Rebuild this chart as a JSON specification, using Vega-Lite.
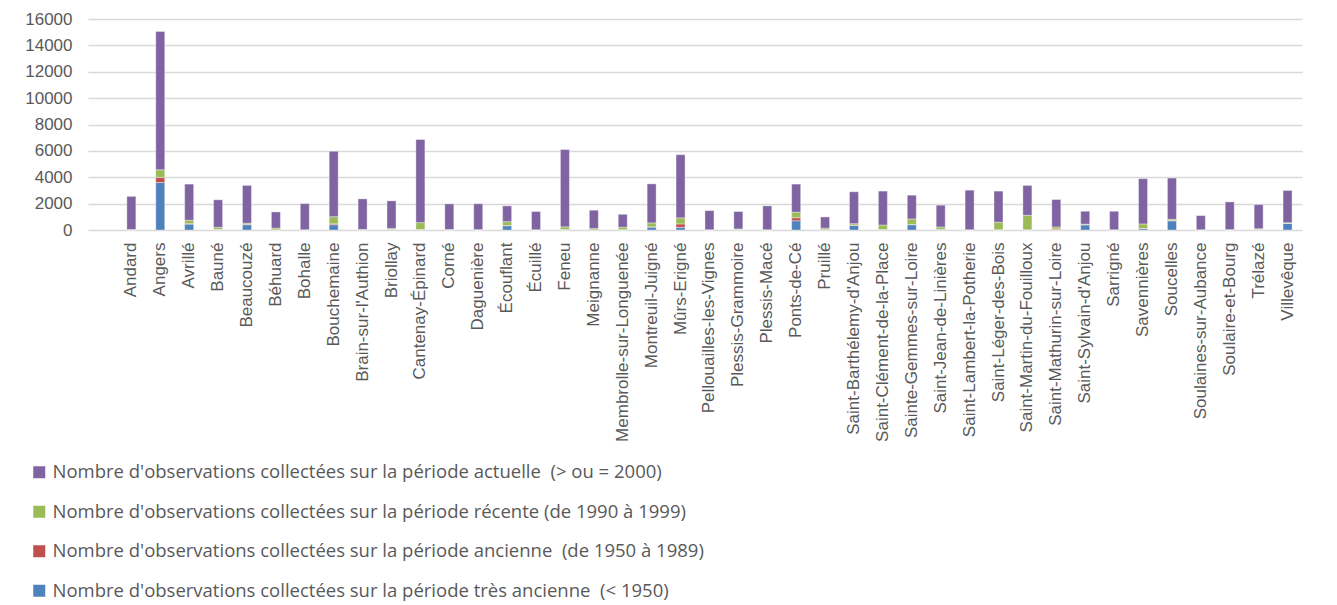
{
  "$schema": "https://vega.github.io/schema/vega-lite/v6.json",
  "width": 1214,
  "height": 211,
  "autosize": {"type": "none"},
  "padding": {"left": 88, "top": 19, "right": 35, "bottom": 375},
  "background": "#ffffff",
  "config": {
    "font": "Liberation Sans",
    "view": {"stroke": null},
    "axis": {"labelColor": "#595959", "labelFont": "Liberation Sans", "labelFontSize": 17, "ticks": false, "domain": false, "title": null, "labelLimit": 500},
    "legend": {"labelColor": "#595959", "labelFont": "Open Sans", "labelFontSize": 18.5}
  },
  "data": {
    "values": [
      {"commune": "Andard", "avant_1950": 10, "de_1950_a_1989": 0, "de_1990_a_1999": 30, "depuis_2000": 2510},
      {"commune": "Angers", "avant_1950": 3600, "de_1950_a_1989": 390, "de_1990_a_1999": 580, "depuis_2000": 10490},
      {"commune": "Avrillé", "avant_1950": 450, "de_1950_a_1989": 30, "de_1990_a_1999": 260, "depuis_2000": 2740},
      {"commune": "Bauné", "avant_1950": 40, "de_1950_a_1989": 10, "de_1990_a_1999": 150, "depuis_2000": 2090},
      {"commune": "Beaucouzé", "avant_1950": 400, "de_1950_a_1989": 40, "de_1990_a_1999": 80, "depuis_2000": 2860},
      {"commune": "Béhuard", "avant_1950": 10, "de_1950_a_1989": 10, "de_1990_a_1999": 130, "depuis_2000": 1220},
      {"commune": "Bohalle", "avant_1950": 0, "de_1950_a_1989": 0, "de_1990_a_1999": 20, "depuis_2000": 1980},
      {"commune": "Bouchemaine", "avant_1950": 400, "de_1950_a_1989": 70, "de_1990_a_1999": 540, "depuis_2000": 4960},
      {"commune": "Brain-sur-l'Authion", "avant_1950": 10, "de_1950_a_1989": 0, "de_1990_a_1999": 40, "depuis_2000": 2310},
      {"commune": "Briollay", "avant_1950": 50, "de_1950_a_1989": 0, "de_1990_a_1999": 70, "depuis_2000": 2090},
      {"commune": "Cantenay-Épinard", "avant_1950": 20, "de_1950_a_1989": 20, "de_1990_a_1999": 520, "depuis_2000": 6300},
      {"commune": "Corné", "avant_1950": 10, "de_1950_a_1989": 0, "de_1990_a_1999": 30, "depuis_2000": 1940},
      {"commune": "Daguenière", "avant_1950": 0, "de_1950_a_1989": 0, "de_1990_a_1999": 30, "depuis_2000": 1960},
      {"commune": "Écouflant", "avant_1950": 320, "de_1950_a_1989": 20, "de_1990_a_1999": 290, "depuis_2000": 1200},
      {"commune": "Écuillé", "avant_1950": 0, "de_1950_a_1989": 0, "de_1990_a_1999": 20, "depuis_2000": 1380},
      {"commune": "Feneu", "avant_1950": 10, "de_1950_a_1989": 30, "de_1990_a_1999": 200, "depuis_2000": 5860},
      {"commune": "Meignanne", "avant_1950": 10, "de_1950_a_1989": 0, "de_1990_a_1999": 110, "depuis_2000": 1380},
      {"commune": "Membrolle-sur-Longuenée", "avant_1950": 10, "de_1950_a_1989": 20, "de_1990_a_1999": 180, "depuis_2000": 980},
      {"commune": "Montreuil-Juigné", "avant_1950": 220, "de_1950_a_1989": 20, "de_1990_a_1999": 300, "depuis_2000": 2960},
      {"commune": "Mûrs-Erigné", "avant_1950": 200, "de_1950_a_1989": 260, "de_1990_a_1999": 460, "depuis_2000": 4790},
      {"commune": "Pellouailles-les-Vignes", "avant_1950": 0, "de_1950_a_1989": 0, "de_1990_a_1999": 20, "depuis_2000": 1450},
      {"commune": "Plessis-Grammoire", "avant_1950": 30, "de_1950_a_1989": 10, "de_1990_a_1999": 40, "depuis_2000": 1320},
      {"commune": "Plessis-Macé", "avant_1950": 0, "de_1950_a_1989": 0, "de_1990_a_1999": 20, "depuis_2000": 1810},
      {"commune": "Ponts-de-Cé", "avant_1950": 700, "de_1950_a_1989": 230, "de_1990_a_1999": 420, "depuis_2000": 2130},
      {"commune": "Pruillé", "avant_1950": 20, "de_1950_a_1989": 0, "de_1990_a_1999": 120, "depuis_2000": 850},
      {"commune": "Saint-Barthélemy-d'Anjou", "avant_1950": 350, "de_1950_a_1989": 20, "de_1990_a_1999": 110, "depuis_2000": 2420},
      {"commune": "Saint-Clément-de-la-Place", "avant_1950": 20, "de_1950_a_1989": 20, "de_1990_a_1999": 340, "depuis_2000": 2570},
      {"commune": "Sainte-Gemmes-sur-Loire", "avant_1950": 400, "de_1950_a_1989": 20, "de_1990_a_1999": 420, "depuis_2000": 1800},
      {"commune": "Saint-Jean-de-Linières", "avant_1950": 20, "de_1950_a_1989": 30, "de_1990_a_1999": 180, "depuis_2000": 1650},
      {"commune": "Saint-Lambert-la-Potherie", "avant_1950": 0, "de_1950_a_1989": 0, "de_1990_a_1999": 20, "depuis_2000": 3000},
      {"commune": "Saint-Léger-des-Bois", "avant_1950": 20, "de_1950_a_1989": 0, "de_1990_a_1999": 570, "depuis_2000": 2360},
      {"commune": "Saint-Martin-du-Fouilloux", "avant_1950": 10, "de_1950_a_1989": 10, "de_1990_a_1999": 1100, "depuis_2000": 2260},
      {"commune": "Saint-Mathurin-sur-Loire", "avant_1950": 20, "de_1950_a_1989": 60, "de_1990_a_1999": 150, "depuis_2000": 2080},
      {"commune": "Saint-Sylvain-d'Anjou", "avant_1950": 400, "de_1950_a_1989": 0, "de_1990_a_1999": 50, "depuis_2000": 970},
      {"commune": "Sarrigné", "avant_1950": 0, "de_1950_a_1989": 0, "de_1990_a_1999": 20, "depuis_2000": 1400},
      {"commune": "Savennières", "avant_1950": 100, "de_1950_a_1989": 20, "de_1990_a_1999": 340, "depuis_2000": 3430},
      {"commune": "Soucelles", "avant_1950": 700, "de_1950_a_1989": 10, "de_1990_a_1999": 100, "depuis_2000": 3130},
      {"commune": "Soulaines-sur-Aubance", "avant_1950": 0, "de_1950_a_1989": 0, "de_1990_a_1999": 20, "depuis_2000": 1070},
      {"commune": "Soulaire-et-Bourg", "avant_1950": 0, "de_1950_a_1989": 0, "de_1990_a_1999": 30, "depuis_2000": 2100},
      {"commune": "Trélazé", "avant_1950": 30, "de_1950_a_1989": 30, "de_1990_a_1999": 40, "depuis_2000": 1830},
      {"commune": "Villevêque", "avant_1950": 500, "de_1950_a_1989": 0, "de_1990_a_1999": 50, "depuis_2000": 2450}
    ]
  },
  "transform": [
    {"fold": ["avant_1950", "de_1950_a_1989", "de_1990_a_1999", "depuis_2000"], "as": ["periode", "n"]}
  ],
  "mark": {"type": "bar", "size": 9, "stroke": "#ffffff", "strokeWidth": 0.6, "strokeOpacity": 0.6},
  "encoding": {
    "x": {
      "field": "commune",
      "type": "nominal",
      "sort": null,
      "scale": {
        "domain": ["", "Andard", "Angers", "Avrillé", "Bauné", "Beaucouzé", "Béhuard", "Bohalle", "Bouchemaine", "Brain-sur-l'Authion", "Briollay", "Cantenay-Épinard", "Corné", "Daguenière", "Écouflant", "Écuillé", "Feneu", "Meignanne", "Membrolle-sur-Longuenée", "Montreuil-Juigné", "Mûrs-Erigné", "Pellouailles-les-Vignes", "Plessis-Grammoire", "Plessis-Macé", "Ponts-de-Cé", "Pruillé", "Saint-Barthélemy-d'Anjou", "Saint-Clément-de-la-Place", "Sainte-Gemmes-sur-Loire", "Saint-Jean-de-Linières", "Saint-Lambert-la-Potherie", "Saint-Léger-des-Bois", "Saint-Martin-du-Fouilloux", "Saint-Mathurin-sur-Loire", "Saint-Sylvain-d'Anjou", "Sarrigné", "Savennières", "Soucelles", "Soulaines-sur-Aubance", "Soulaire-et-Bourg", "Trélazé", "Villevêque"],
        "paddingInner": 0,
        "paddingOuter": 0
      },
      "axis": {"labelAngle": -90, "labelPadding": 12, "grid": false, "labelOverlap": false}
    },
    "y": {
      "field": "n",
      "type": "quantitative",
      "stack": "zero",
      "scale": {"domain": [0, 16000], "nice": false},
      "axis": {"values": [0, 2000, 4000, 6000, 8000, 10000, 12000, 14000, 16000], "format": "d", "grid": true, "gridColor": "#d9d9d9", "gridWidth": 1.3, "labelPadding": 16}
    },
    "color": {
      "field": "periode",
      "type": "nominal",
      "scale": {
        "domain": ["depuis_2000", "de_1990_a_1999", "de_1950_a_1989", "avant_1950"],
        "range": ["#8064A2", "#9BBB59", "#C0504D", "#4F81BD"]
      },
      "legend": {
        "title": null,
        "orient": "none",
        "legendX": -58,
        "legendY": 444,
        "direction": "vertical",
        "symbolType": "square",
        "symbolSize": 144,
        "symbolStrokeWidth": 0,
        "labelOffset": 4,
        "rowPadding": 20.5,
        "labelLimit": 800,
        "labelExpr": "datum.value == 'depuis_2000' ? \"Nombre d'observations collectées sur la période actuelle\u00a0 (> ou = 2000)\" : datum.value == 'de_1990_a_1999' ? \"Nombre d'observations collectées sur la période récente (de 1990 à 1999)\" : datum.value == 'de_1950_a_1989' ? \"Nombre d'observations collectées sur la période ancienne\u00a0 (de 1950 à 1989)\" : \"Nombre d'observations collectées sur la période très ancienne\u00a0 (< 1950)\""
      }
    },
    "order": {"field": "periode", "sort": "ascending"}
  }
}
